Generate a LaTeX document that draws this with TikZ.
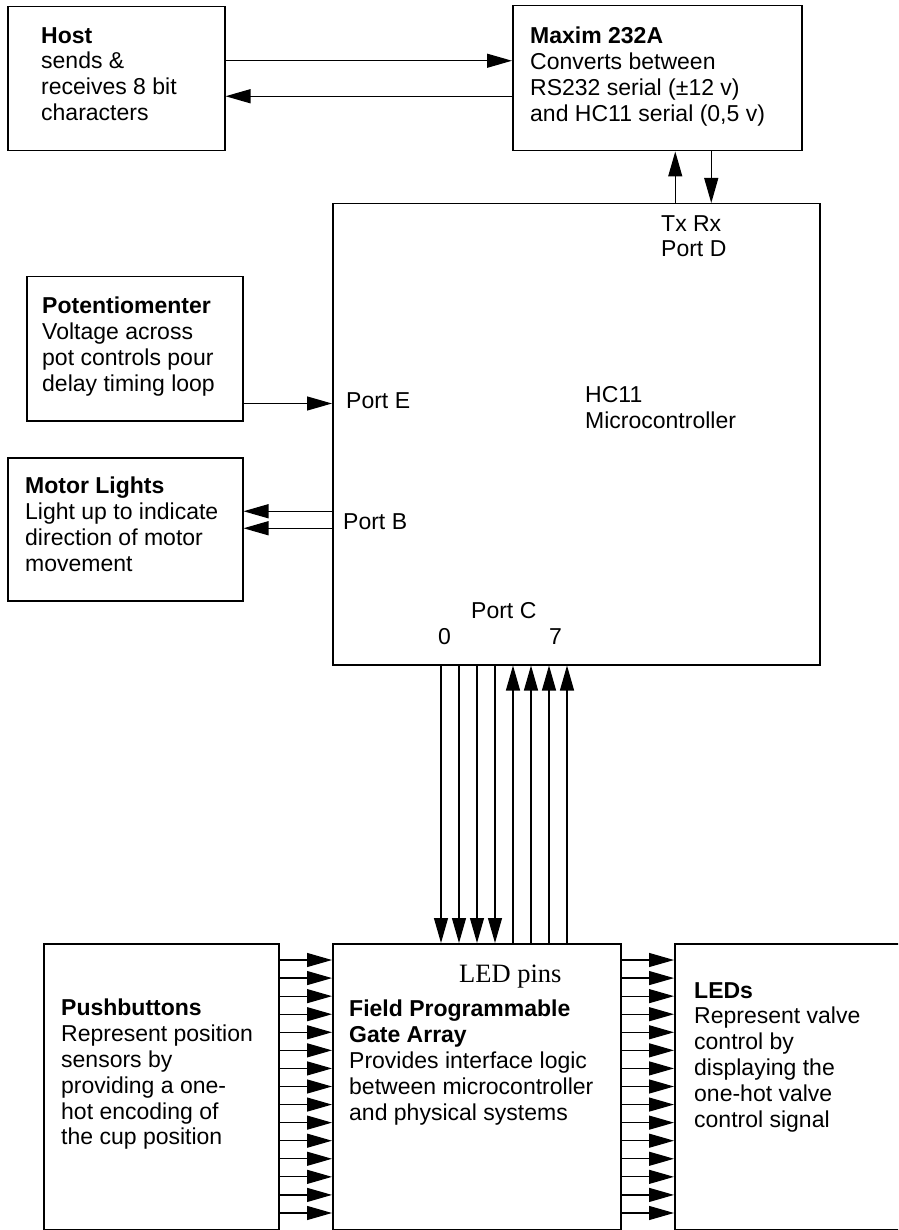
\documentclass[tikz,border=0pt]{standalone}
\usepackage{fontspec}
\setmainfont{Liberation Sans}
\newfontfamily\pinfont{Liberation Serif}
\usetikzlibrary{arrows.meta}

\begin{document}
\begin{tikzpicture}[
  x=1pt, y=-1pt,
  box/.style={draw, line width=1.5pt, anchor=north west, inner sep=0pt},
  txt/.style={anchor=north west, inner sep=0pt, align=left,
    font=\fontsize{23}{25.8}\selectfont},
  arr/.style={-{Triangle[length=25pt, width=14pt]}, line width=1.2pt}
]
  \useasboundingbox (0,0) rectangle (898,1230);
  \clip (0,0) rectangle (898,1230);

  % Boxes
  \node[box, minimum width=217pt, minimum height=144pt] (host) at (7,6) {};
  \node[box, minimum width=289pt, minimum height=145pt] (maxim) at (512,5) {};
  \node[box, minimum width=487pt, minimum height=461pt] (hc11) at (332,203) {};
  \node[box, minimum width=216pt, minimum height=144pt] (pot) at (26,276) {};
  \node[box, minimum width=235pt, minimum height=143pt] (motor) at (7,457) {};
  \node[box, minimum width=235pt, minimum height=286pt] (push) at (43,943) {};
  \node[box, minimum width=288pt, minimum height=286pt] (fpga) at (332,943) {};
  \node[box, minimum width=300pt, minimum height=286pt] (leds) at (674,943) {};

  % Box texts
  \node[txt] (hosttxt) at (41,27)
    {\textbf{Host}\\sends \&\\receives 8 bit\\characters};
  \node[txt] (maximtxt) at (530,27)
    {\textbf{Maxim 232A}\\Converts between\\RS232 serial (±12 v)\\and HC11 serial (0,5 v)};
  \node[txt] (pottxt) at (42,297)
    {\textbf{Potentiomenter}\\Voltage across\\pot controls pour\\delay timing loop};
  \node[txt] (motortxt) at (25,477)
    {\textbf{Motor Lights}\\Light up to indicate\\direction of motor\\movement};
  \node[txt] (pushtxt) at (61,999)
    {\textbf{Pushbuttons}\\Represent position\\sensors by\\providing a one-\\hot encoding of\\the cup position};
  \node[txt] (fpgatxt) at (349,1000)
    {\textbf{Field Programmable}\\\textbf{Gate Array}\\Provides interface logic\\between microcontroller\\and physical systems};
  \node[txt] (ledstxt) at (694,982)
    {\textbf{LEDs}\\Represent valve\\control by\\displaying the\\one-hot valve\\control signal};
  \node[anchor=north west, inner sep=0pt, font=\pinfont\fontsize{26.5}{30}\selectfont]
    (ledpins) at (459,965) {LED pins};

  % HC11 port labels
  \node[txt, font=\fontsize{23}{26.5}\selectfont] (hc11txt) at (585,386)
    {HC11\\Microcontroller};
  \node[txt, font=\fontsize{23}{25}\selectfont] (portd) at (661,215)
    {Tx Rx\\Port D};
  \node[txt] (porte) at (346,392) {Port E};
  \node[txt] (portb) at (343,513) {Port B};
  \node[txt] (portc) at (471,602) {Port C};
  \node[txt] (bit0) at (438,628) {0};
  \node[txt] (bit7) at (549,628) {7};

  % Serial link
  \coordinate (hs) at ([yshift=18pt]host.east);
  \draw[arr] (hs) -- (hs -| maxim.west);
  \coordinate (mr) at ([yshift=-18pt]maxim.west);
  \draw[arr] (mr) -- (mr -| host.east);
  \coordinate (tx) at ([xshift=18pt]maxim.south);
  \draw[arr] (tx |- hc11.north) -- (tx);
  \coordinate (rx) at ([xshift=54pt]maxim.south);
  \draw[arr] (rx) -- (rx |- hc11.north);

  % Port E and Port B
  \coordinate (pe) at ([yshift=18pt]pot.south east);
  \draw[arr] (pe) -- (pe -| hc11.west);
  \coordinate (mb1) at ([yshift=18pt]motor.east);
  \coordinate (mb2) at ([yshift=1pt]motor.east);
  \draw[arr] (mb1 -| hc11.west) -- (mb1);
  \draw[arr] (mb2 -| hc11.west) -- (mb2);

  % Port C, bits 0-3 out, 4-7 in
  \foreach \i in {0,...,7} {
    \coordinate (pc\i) at ([xshift={(109+18*\i)*1pt}]fpga.north west);
    \ifnum\i<4
      \draw[arr] (pc\i |- hc11.south) -- (pc\i);
    \else
      \draw[arr] (pc\i) -- (pc\i |- hc11.south);
    \fi
  }

  % Pushbuttons -> FPGA -> LEDs
  \foreach \k in {0,...,14} {
    \coordinate (pb\k) at ([yshift={-(17+18.07*\k)*1pt}]push.north east);
    \draw[arr] (pb\k) -- (pb\k -| fpga.west);
    \coordinate (fp\k) at ([yshift={-(17+18.07*\k)*1pt}]fpga.north east);
    \draw[arr] (fp\k) -- (fp\k -| leds.west);
  }
\end{tikzpicture}
\end{document}
